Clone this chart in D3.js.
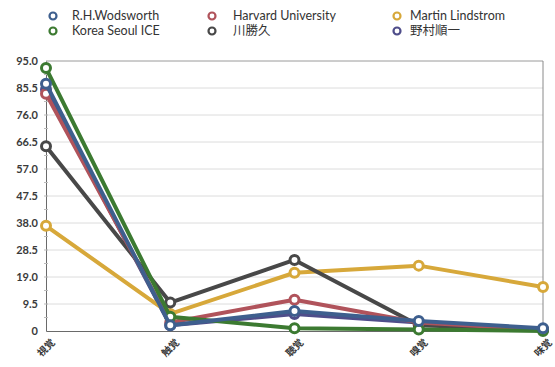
<!DOCTYPE html>
<html>
<head>
<meta charset="utf-8">
<script src="https://cdn.jsdelivr.net/npm/d3@7"></script>
<style>
  html, body { margin: 0; padding: 0; background: #fff; }
  svg { display: block; }
</style>
</head>
<body>
<svg id="chart" width="555" height="367"></svg>
<script>
// Five senses, share of importance per source
const categories = ["視覚", "触覚", "聴覚", "嗅覚", "味覚"];
const seriesNames = ["R.H.Wodsworth", "Harvard University", "Martin Lindstrom", "Korea Seoul ICE", "川勝久", "野村順一"];
const seriesColors = ["#3e5f8e", "#b0535b", "#d7a83a", "#3c7a31", "#484848", "#4f4d8a"];
const wodsworth = [87, 2, 7, 3.5, 1];
const harvard   = [83.5, 3, 11, 3, 0.5];
const lindstrom = [37, 6, 20.5, 23, 15.5];
const koreaIce  = [92.5, 5, 1, 0.5, 0];
const kawakatsu = [65, 10, 25, 2, 0.5];
const nomura    = [85, 2, 6, 3, 0.5];
const yTicks = [0, 9.5, 19.0, 28.5, 38.0, 47.5, 57.0, 66.5, 76.0, 85.5, 95.0];

const seriesValues = [wodsworth, harvard, lindstrom, koreaIce, kawakatsu, nomura];
const series = seriesNames.map((name, i) => ({ name, color: seriesColors[i], values: seriesValues[i] }));

const svg = d3.select("#chart");
const plotLeft = 46, plotRight = 543, plotTop = 61, plotBottom = 331;

const x = d3.scalePoint().domain(categories).range([plotLeft, plotRight]).padding(0);
const y = d3.scaleLinear().domain([0, 95]).range([plotBottom, plotTop]);

// horizontal grid
svg.append("g")
  .selectAll("line")
  .data(yTicks.slice(1))
  .join("line")
  .attr("x1", plotLeft).attr("x2", plotRight)
  .attr("y1", d => y(d)).attr("y2", d => y(d))
  .attr("stroke", d => d === 95 ? "#9a9a9a" : "#dcdcdc")
  .attr("stroke-width", 1);

// right border
svg.append("line")
  .attr("x1", plotRight).attr("x2", plotRight)
  .attr("y1", plotTop).attr("y2", plotBottom)
  .attr("stroke", "#8a8a8a").attr("stroke-width", 1);

// y axis
const yAxis = d3.axisLeft(y)
  .tickValues(yTicks)
  .tickSize(0)
  .tickPadding(8)
  .tickFormat(d => d === 0 ? "0" : d3.format(".1f")(d));
const gy = svg.append("g").attr("transform", `translate(${plotLeft},0)`).call(yAxis);
gy.select(".domain").attr("stroke", "#6a6a6a");
gy.selectAll("text")
  .attr("font-family", "Lato, 'Open Sans', sans-serif")
  .attr("font-size", 11).attr("font-weight", 700).attr("fill", "#3a3a3a");

// minor ticks along the y axis
const minor = d3.range(0, 95, 4.75).filter(v => v > 0);
svg.append("g").selectAll("line").data(minor).join("line")
  .attr("x1", plotLeft - 2).attr("x2", plotLeft + 2)
  .attr("y1", d => y(d)).attr("y2", d => y(d))
  .attr("stroke", "#bbb");

// x axis
const xAxis = d3.axisBottom(x).tickSize(0).tickPadding(6);
const gx = svg.append("g").attr("transform", `translate(0,${plotBottom})`).call(xAxis);
gx.select(".domain").attr("stroke", "#6a6a6a");
gx.selectAll("text")
  .attr("font-family", "'Noto Sans CJK JP', sans-serif")
  .attr("font-size", 10).attr("font-weight", 700).attr("fill", "#3a3a3a")
  .attr("text-anchor", "end")
  .attr("transform", "translate(0,3) rotate(-45)")
  .attr("dy", "0.7em");

// series lines and markers
const line = d3.line().x((d, i) => x(categories[i])).y(d => y(d));
const drawOrder = [5, 2, 4, 1, 3, 0];
const gSeries = svg.append("g");
drawOrder.forEach(i => {
  const s = series[i];
  const g = gSeries.append("g");
  g.append("path")
    .datum(s.values)
    .attr("d", line)
    .attr("fill", "none")
    .attr("stroke", s.color)
    .attr("stroke-width", 4)
    .attr("stroke-linejoin", "round");
  g.selectAll("circle")
    .data(s.values)
    .join("circle")
    .attr("cx", (d, j) => x(categories[j]))
    .attr("cy", d => y(d))
    .attr("r", 4.5)
    .attr("fill", "#fff")
    .attr("stroke", s.color)
    .attr("stroke-width", 3);
});

// legend: three columns, two rows
const legendMarkerX = [53, 212, 397];
const legendTextX = [72, 233, 410];
const legendRows = [16, 31];
const legend = svg.append("g");
series.forEach((s, i) => {
  const col = i % 3;
  const cy = legendRows[Math.floor(i / 3)];
  legend.append("circle")
    .attr("cx", legendMarkerX[col]).attr("cy", cy).attr("r", 3.5)
    .attr("fill", "#fff").attr("stroke", s.color).attr("stroke-width", 2.2);
  legend.append("text")
    .attr("x", legendTextX[col]).attr("y", cy)
    .attr("dy", "0.35em")
    .attr("font-family", "Lato, 'Noto Sans CJK JP', sans-serif")
    .attr("font-size", 12.5)
    .attr("fill", "#333")
    .text(s.name);
});
</script>
</body>
</html>
